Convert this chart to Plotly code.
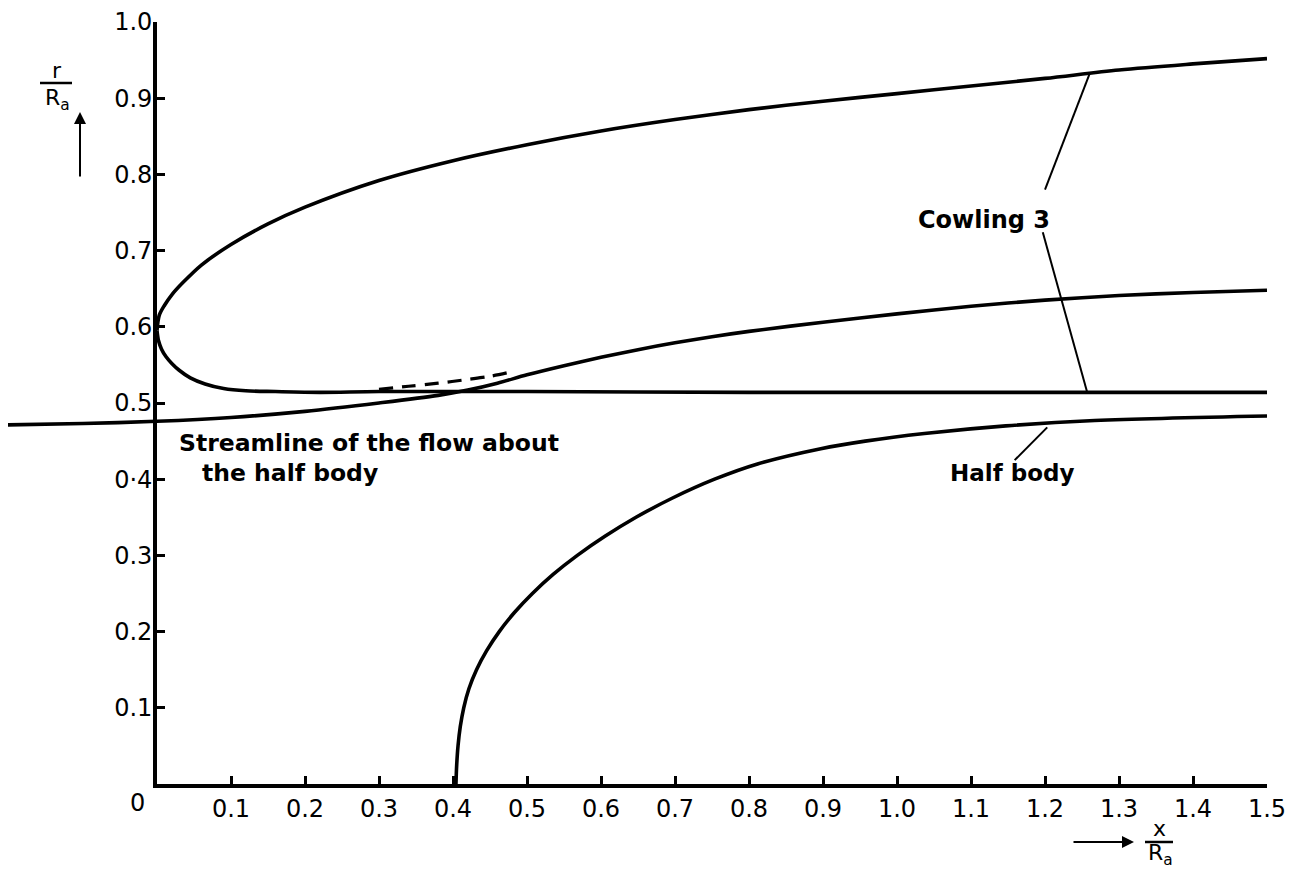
import plotly.graph_objects as go

# ---------------- data ----------------
# Cowling 3, outer surface (upper branch from the nose)
upper_x = [0.0, 0.003, 0.01, 0.02, 0.035, 0.06, 0.1, 0.15, 0.2, 0.3, 0.4, 0.5, 0.6,
           0.7, 0.8, 0.9, 1.0, 1.1, 1.2, 1.3, 1.4, 1.5]
upper_r = [0.595, 0.615, 0.628, 0.642, 0.658, 0.681, 0.708, 0.735, 0.757, 0.792, 0.818,
           0.839, 0.857, 0.872, 0.885, 0.896, 0.906, 0.916, 0.926, 0.937, 0.945, 0.952]

# Cowling 3, inner surface (lower branch from the nose)
inner_x = [0.0, 0.002, 0.006, 0.012, 0.02, 0.03, 0.045, 0.065, 0.09, 0.12, 0.16, 0.22,
           0.3, 0.5, 0.8, 1.0, 1.25, 1.5]
inner_r = [0.595, 0.582, 0.571, 0.561, 0.552, 0.543, 0.533, 0.525, 0.519, 0.516, 0.515,
           0.514, 0.515, 0.515, 0.514, 0.514, 0.514, 0.514]

# Streamline of the flow about the half body
stream_x = [-0.215, -0.1, 0.0, 0.1, 0.2, 0.3, 0.38, 0.42, 0.46, 0.5, 0.55, 0.6, 0.65,
            0.7, 0.75, 0.8, 0.9, 1.0, 1.1, 1.2, 1.3, 1.4, 1.5]
stream_r = [0.471, 0.473, 0.476, 0.481, 0.489, 0.500, 0.510, 0.517, 0.526, 0.537, 0.549,
            0.560, 0.570, 0.579, 0.587, 0.594, 0.606, 0.617, 0.627, 0.635, 0.641, 0.645,
            0.648]

# Dashed connection
dashed_x = [0.30, 0.34, 0.38, 0.42, 0.45, 0.475]
dashed_r = [0.518, 0.522, 0.526, 0.531, 0.535, 0.540]

# Half body
body_x = [0.404, 0.405, 0.4068, 0.4098, 0.4145, 0.4215, 0.4318, 0.4455, 0.4625, 0.483,
          0.5073, 0.5353, 0.568, 0.6053, 0.6473, 0.696, 0.7535, 0.8115, 0.897, 0.957,
          1.037, 1.147, 1.267, 1.5]
body_r = [0.0, 0.025, 0.05, 0.075, 0.1, 0.125, 0.15, 0.175, 0.2, 0.225, 0.25, 0.275,
          0.3, 0.325, 0.35, 0.375, 0.4, 0.42, 0.44, 0.45, 0.46, 0.47, 0.477, 0.483]

xtick_vals = [0.1, 0.2, 0.3, 0.4, 0.5, 0.6, 0.7, 0.8, 0.9, 1.0, 1.1, 1.2, 1.3, 1.4, 1.5]
xtick_text = ["0.1", "0.2", "0.3", "0.4", "0.5", "0.6", "0.7", "0.8", "0.9", "1.0",
              "1.1", "1.2", "1.3", "1.4", "1.5"]
ytick_vals = [0.1, 0.2, 0.3, 0.4, 0.5, 0.6, 0.7, 0.8, 0.9, 1.0]
ytick_text = ["0.1", "0.2", "0.3", "0·4", "0.5", "0.6", "0.7", "0.8", "0.9", "1.0"]

# ---------------- layout geometry ----------------
OFF = 8                    # page body margin
W, H = 1298 - OFF, 872 - OFF
REF_X0, REF_X15 = 157, 1267   # reference pixel columns of x = 0 and x = 1.5
REF_Y0, REF_Y1 = 784, 22      # reference pixel rows of r = 0 and r = 1
ML, MT = 0, REF_Y1 - OFF
MR = W - (REF_X15 - OFF)
MB = H - (REF_Y0 - OFF)
PW = W - ML - MR
PH = H - MT - MB
X0PX = REF_X0 - OFF
XSCALE = (REF_X15 - REF_X0) / 1.5


def px(xr):
    """reference pixel column -> paper x"""
    return (xr - OFF) / PW


def py(yr):
    """reference pixel row -> paper y"""
    return (REF_Y0 - yr) / PH


FONT = "DejaVu Sans"
INK = "black"
LW = 3.6

fig = go.Figure()


def curve(x, y, xaxis="x", dash="solid", width=LW, smoothing=0.9):
    fig.add_trace(go.Scatter(x=x, y=y, mode="lines", xaxis=xaxis, yaxis="y",
                             line=dict(color=INK, width=width, dash=dash,
                                       shape="spline", smoothing=smoothing),
                             showlegend=False, hoverinfo="skip"))


curve(upper_x, upper_r)
curve(inner_x, inner_r)
curve(stream_x, stream_r)
curve(stream_x, stream_r, xaxis="x2")
curve(dashed_x, dashed_r, dash="14px,9px", width=3.2)
curve(body_x, body_r, smoothing=1.0)

# leader lines
leaders = [((1.200, 0.780), (1.261, 0.934)),
           ((1.197, 0.724), (1.257, 0.514)),
           ((1.203, 0.468), (1.159, 0.425))]
for (a, b) in leaders:
    fig.add_shape(type="line", xref="x", yref="y", x0=a[0], y0=a[1], x1=b[0], y1=b[1],
                  line=dict(color=INK, width=2))

tf = dict(family=FONT, size=24, color=INK)
lf = dict(family=FONT, size=22, color=INK)

anns = [
    dict(text="<b>Streamline of the flow about</b>", x=px(177), y=py(443), xanchor="left", size=23.5),
    dict(text="<b>the half body</b>", x=px(200), y=py(473), xanchor="left", size=23.5),
    dict(text="<b>Cowling 3</b>", x=px(1052), y=py(220), xanchor="right", size=24),
    dict(text="<b>Half body</b>", x=px(1076), y=py(473), xanchor="right", size=23),
]
for a in anns:
    s = a.pop("size")
    fig.add_annotation(xref="paper", yref="paper", showarrow=False, yanchor="middle",
                       font=dict(family=FONT, size=s, color=INK), **a)

# axis-name fractions
fig.add_annotation(xref="paper", yref="paper", x=px(57), y=py(70), text="r",
                   showarrow=False, font=lf, xanchor="center", yanchor="middle")
fig.add_annotation(xref="paper", yref="paper", x=px(57), y=py(99), text="R<sub>a</sub>",
                   showarrow=False, font=lf, xanchor="center", yanchor="middle")
fig.add_shape(type="line", xref="paper", yref="paper", x0=px(40), x1=px(72),
              y0=py(83), y1=py(83), line=dict(color=INK, width=2.5))
fig.add_annotation(xref="paper", yref="paper", x=px(80), y=py(112), ax=0, ay=66,
                   text="", showarrow=True, arrowhead=2, arrowsize=1.2, arrowwidth=2,
                   arrowcolor=INK)

fig.add_annotation(xref="paper", yref="paper", x=px(1159), y=py(829), text="x",
                   showarrow=False, font=lf, xanchor="center", yanchor="middle")
fig.add_annotation(xref="paper", yref="paper", x=px(1160), y=py(855), text="R<sub>a</sub>",
                   showarrow=False, font=lf, xanchor="center", yanchor="middle")
fig.add_shape(type="line", xref="paper", yref="paper", x0=px(1145), x1=px(1173),
              y0=py(842), y1=py(842), line=dict(color=INK, width=2.5))
fig.add_annotation(xref="paper", yref="paper", x=px(1134), y=py(842), ax=-62, ay=0,
                   text="", showarrow=True, arrowhead=2, arrowsize=1.2, arrowwidth=2,
                   arrowcolor=INK)

# "0" at the origin corner
fig.add_annotation(xref="paper", yref="paper", x=px(137), y=py(803), text="0",
                   showarrow=False, font=tf, xanchor="center", yanchor="middle")

axis_common = dict(showgrid=False, zeroline=False, showline=True, linecolor=INK,
                   linewidth=LW, ticks="inside", ticklen=8, tickwidth=2.5,
                   tickcolor=INK, tickfont=tf)

fig.update_layout(
    width=W, height=H,
    margin=dict(l=ML, r=MR, t=MT, b=MB, pad=0),
    paper_bgcolor="white", plot_bgcolor="white",
    showlegend=False,
    xaxis=dict(domain=[X0PX / PW, 1], range=[0, 1.5], anchor="y",
               tickmode="array", tickvals=xtick_vals, ticktext=xtick_text,
               **axis_common),
    yaxis=dict(domain=[0, 1], range=[0, 1.0], anchor="x",
               tickmode="array", tickvals=ytick_vals, ticktext=ytick_text,
               ticklabelstandoff=-4, **axis_common),
    xaxis2=dict(domain=[0, X0PX / PW], range=[-X0PX / XSCALE, 0], anchor="y",
                visible=False, showgrid=False, zeroline=False),
)

fig.write_html("out.html")
